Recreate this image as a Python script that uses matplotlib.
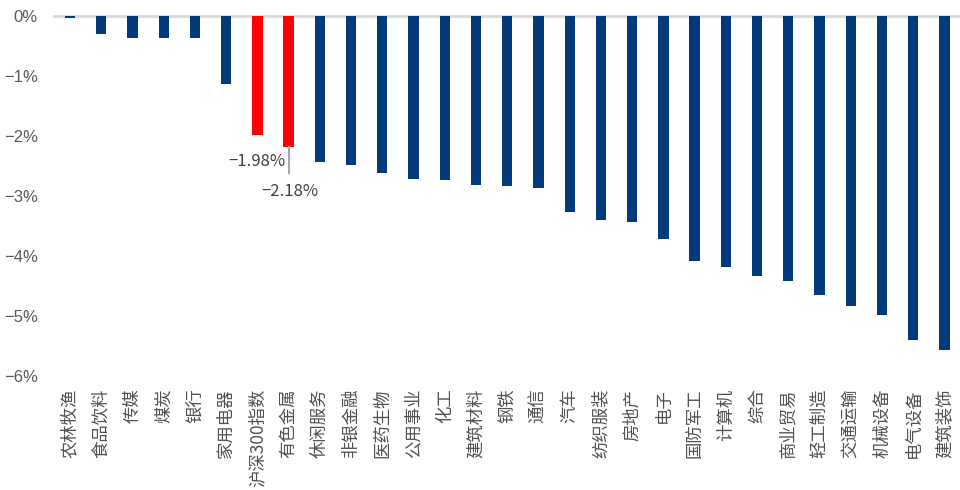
import numpy as np
import matplotlib
matplotlib.use("Agg")
from matplotlib import pyplot as plt
from matplotlib.ticker import FuncFormatter

plt.rcParams['font.family'] = ['Noto Sans CJK SC', 'DejaVu Sans']
plt.rcParams['axes.unicode_minus'] = True

# weekly change by industry, %
industries = ["农林牧渔", "食品饮料", "传媒", "煤炭", "银行", "家用电器", "沪深300指数",
              "有色金属", "休闲服务", "非银金融", "医药生物", "公用事业", "化工", "建筑材料",
              "钢铁", "通信", "汽车", "纺织服装", "房地产", "电子", "国防军工", "计算机",
              "综合", "商业贸易", "轻工制造", "交通运输", "机械设备", "电气设备", "建筑装饰"]
changes = [-0.03, -0.30, -0.37, -0.37, -0.37, -1.13, -1.98,
           -2.18, -2.43, -2.48, -2.61, -2.72, -2.73, -2.81,
           -2.83, -2.86, -3.27, -3.40, -3.43, -3.71, -4.08, -4.19,
           -4.33, -4.41, -4.65, -4.84, -4.99, -5.40, -5.56]
highlight = ["沪深300指数", "有色金属"]

navy = "#033a7c"
red = "#ff0000"
colors = [red if name in highlight else navy for name in industries]

fig = plt.figure(figsize=(9.6, 4.9), dpi=100)
ax = fig.add_axes([0.0567, 0.2327, 0.9433, 0.7347])

x = np.arange(len(industries))
ax.bar(x, changes, width=0.33, color=colors, zorder=2)
ax.axhline(0, color="#d9d9d9", lw=2, zorder=1, clip_on=False)

ax.set_xlim(-0.5, len(industries) - 0.5)
ax.set_ylim(-6, 0)
ax.set_yticks(np.arange(-6, 1, 1))
ax.yaxis.set_major_formatter(FuncFormatter(lambda v, _: f"{v:.0f}%".replace("-", "\u2212")))
for lab in ax.get_yticklabels():
    lab.set_family("Liberation Sans")
ax.tick_params(axis="y", length=0, pad=12, labelsize=12, labelcolor="#595959")

ax.set_xticks(x)
ax.set_xticklabels(industries, rotation=90, fontsize=12.5, color="#505050", fontweight="light")
ax.tick_params(axis="x", length=0, pad=9)

for s in ax.spines.values():
    s.set_visible(False)

# value labels for the two highlighted bars
i_hs, i_ys = industries.index("沪深300指数"), industries.index("有色金属")
ax.plot([i_ys, i_ys], [changes[i_ys], changes[i_ys] - 0.44], color="#a6a6a6", lw=1.5, zorder=3)
ax.text(i_ys - 0.1, changes[i_hs] - 0.45, f"{changes[i_hs]:.2f}%".replace("-", "\u2212"),
        ha="right", va="center", fontsize=12, color="#404040")
ax.text(i_ys + 0.05, changes[i_ys] - 0.75, f"{changes[i_ys]:.2f}%".replace("-", "\u2212"),
        ha="center", va="center", fontsize=12, color="#404040")

fig.savefig("out.png", dpi=100)
